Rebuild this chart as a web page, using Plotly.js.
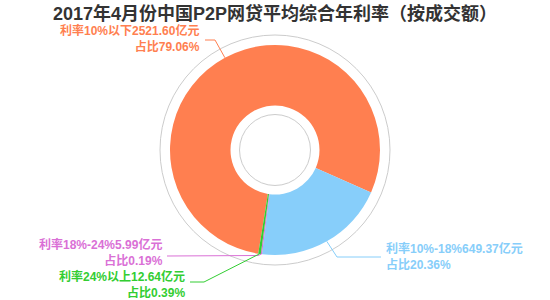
<!DOCTYPE html>
<html>
<head>
<meta charset="utf-8">
<script src="https://cdn.plot.ly/plotly-3.0.1.min.js"></script>
<style>html,body{margin:0;padding:0;background:#fff;}#chart{width:550px;height:300px;}</style>
</head>
<body>
<div id="chart"></div>
<script>
// ---- data ----
const categories = ['利率10%以下', '利率10%-18%', '利率18%-24%', '利率24%以上'];
const amounts = [2521.60, 649.37, 5.99, 12.64];          // 亿元
const shareLabels = ['79.06%', '20.36%', '0.19%', '0.39%'];
const colors = ['#ff7f50', '#87cefa', '#da70d6', '#32cd32'];

// ---- geometry (pixels) ----
const W = 550, H = 300;
const CX = 275, CY = 150, R = 105, HOLE = 44.5 / 105;
const ROT = 189.2;
const px = x => x / W, py = y => 1 - y / H;

// label layout: elbow point, line end, text anchor x, text centre y, align
const labelLayout = [
  {elbow: [215, 40], end: [205, 40], tx: 201, ty: 38.5, align: 'right'},
  {elbow: [337, 257], end: [381, 257], tx: 385, ty: 256.5, align: 'left'},
  {elbow: [258, 255.5], end: [167, 256], tx: 164, ty: 252.5, align: 'right'},
  {elbow: [204, 282], end: [190, 282], tx: 186, ty: 284, align: 'right'}
];

const total = amounts.reduce((a, b) => a + b, 0);
let cum = 0;
const shapes = [];
const annotations = [];
const font = 'Liberation Sans, Arial, Noto Sans CJK SC, sans-serif';

amounts.forEach((v, i) => {
  const mid = (ROT + (cum + v / 2) / total * 360) * Math.PI / 180;
  cum += v;
  const sx = CX + R * Math.sin(mid), sy = CY - R * Math.cos(mid);
  const L = labelLayout[i];
  shapes.push({
    type: 'path', xref: 'paper', yref: 'paper',
    path: `M${px(sx)},${py(sy)} L${px(L.elbow[0])},${py(L.elbow[1])} L${px(L.end[0])},${py(L.end[1])}`,
    line: {color: colors[i], width: 1}
  });
  const txt = '<b>' + categories[i] + amounts[i].toFixed(2) + '亿元</b><br><b>占比' + shareLabels[i] + '</b>';
  annotations.push({
    xref: 'paper', yref: 'paper', x: px(L.tx), y: py(L.ty),
    xanchor: L.align, yanchor: 'middle', showarrow: false, text: txt, align: L.align,
    borderpad: 0,
    font: {family: font, size: 12, color: colors[i]}
  });
});

// decorative rings
shapes.push({type: 'circle', xref: 'paper', yref: 'paper', x0: px(CX - 115), x1: px(CX + 115), y0: py(CY + 115), y1: py(CY - 115), line: {color: '#cccccc', width: 1}, layer: 'below'});
shapes.push({type: 'circle', xref: 'paper', yref: 'paper', x0: px(CX - 35.5), x1: px(CX + 35.5), y0: py(CY + 35.5), y1: py(CY - 35.5), line: {color: '#cccccc', width: 1}, layer: 'above'});

const trace = {
  type: 'pie',
  labels: categories,
  values: amounts,
  sort: false,
  direction: 'clockwise',
  rotation: ROT,
  hole: HOLE,
  textinfo: 'none',
  hoverinfo: 'none',
  marker: {colors: colors, line: {width: 0}},
  domain: {x: [px(CX - R), px(CX + R)], y: [py(CY + R), py(CY - R)]},
  showlegend: false
};

const layout = {
  width: W, height: H,
  margin: {l: 0, r: 0, t: 0, b: 0},
  paper_bgcolor: '#fff',
  title: {text: '<b>2017年4月份中国P2P网贷平均综合年利率（按成交额）</b>', x: 0.5, xanchor: 'center', y: py(14), yanchor: 'middle', font: {family: font, size: 18, color: '#333'}},
  shapes: shapes,
  annotations: annotations
};

Plotly.newPlot('chart', [trace], layout, {displayModeBar: false, staticPlot: true});
</script>
</body>
</html>
